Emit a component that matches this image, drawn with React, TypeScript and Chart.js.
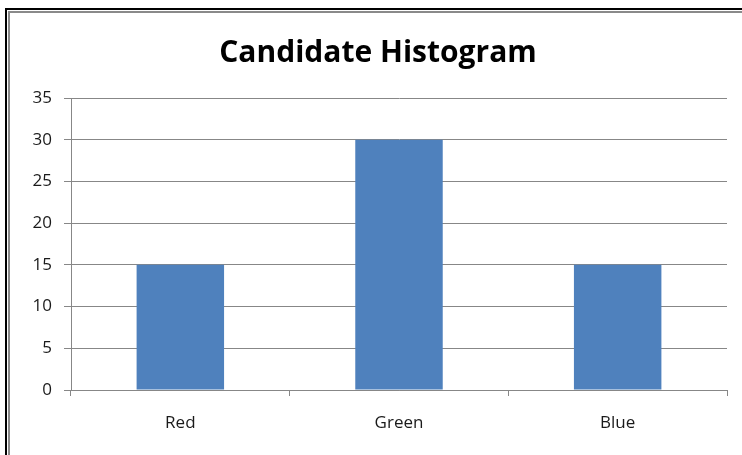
import React, { useEffect, useRef } from "react";
import { Chart, registerables } from "chart.js";

Chart.register(...registerables);

const categories = ["Red", "Green", "Blue"];
const candidateCounts = [15, 30, 15];
const yTicks = [0, 5, 10, 15, 20, 25, 30, 35];

const AXIS_GRAY = "#878787";
const BAR_BLUE = "#4F81BD";
const FONT = "'Open Sans', 'DejaVu Sans', sans-serif";

export default function App() {
  const canvasRef = useRef<HTMLCanvasElement | null>(null);

  useEffect(() => {
    const canvas = canvasRef.current;
    if (!canvas) return;
    const chart = new Chart(canvas, {
      type: "bar",
      data: {
        labels: categories,
        datasets: [
          {
            label: "Candidates",
            data: candidateCounts,
            backgroundColor: BAR_BLUE,
            borderWidth: 0,
            categoryPercentage: 1,
            barPercentage: 0.4,
          },
        ],
      },
      options: {
        animation: false,
        responsive: false,
        maintainAspectRatio: false,
        layout: { padding: { left: 0, right: 19, top: 0, bottom: 0 } },
        plugins: {
          legend: { display: false },
          tooltip: { enabled: false },
          title: {
            display: true,
            text: "Candidate Histogram",
            color: "#000",
            font: { family: FONT, size: 30, weight: "bold", lineHeight: 1.2 },
            padding: { top: 22, bottom: 27 },
          },
        },
        scales: {
          x: {
            type: "category",
            offset: true,
            grid: {
              display: true,
              offset: true,
              drawOnChartArea: false,
              drawTicks: true,
              tickLength: 6,
              color: AXIS_GRAY,
            },
            border: { display: true, color: AXIS_GRAY, width: 1 },
            ticks: {
              color: "#1a1a1a",
              font: { family: FONT, size: 17 },
              padding: 17,
            },
            afterFit: (scale: any) => {
              scale.height = 65;
            },
          },
          y: {
            min: 0,
            max: 35,
            afterBuildTicks: (scale: any) => {
              scale.ticks = yTicks.map((v) => ({ value: v }));
            },
            grid: {
              color: AXIS_GRAY,
              drawTicks: true,
              tickLength: 7,
            },
            border: { display: true, color: AXIS_GRAY, width: 1 },
            ticks: {
              color: "#1a1a1a",
              font: { family: FONT, size: 17 },
              padding: 12,
            },
            afterFit: (scale: any) => {
              scale.width = 42;
            },
          },
        },
      },
    });
    return () => chart.destroy();
  }, []);

  return (
    <div
      style={{
        position: "absolute",
        left: 0,
        top: 0,
        width: 742,
        height: 455,
        overflow: "hidden",
        background: "#fff",
      }}
    >
      {/* outer black frame */}
      <div
        style={{
          position: "absolute",
          left: 5,
          top: 8,
          width: 800,
          height: 600,
          borderLeft: "2px solid #000",
          borderTop: "2px solid #000",
        }}
      />
      {/* inner gray frame */}
      <div
        style={{
          position: "absolute",
          left: 8,
          top: 11,
          width: 800,
          height: 600,
          borderLeft: "2px solid #8a8a8a",
          borderTop: "2px solid #8a8a8a",
        }}
      />
      <canvas
        ref={canvasRef}
        width={717}
        height={442}
        style={{ position: "absolute", left: 29, top: 13, width: 717, height: 442 }}
      />
    </div>
  );
}
